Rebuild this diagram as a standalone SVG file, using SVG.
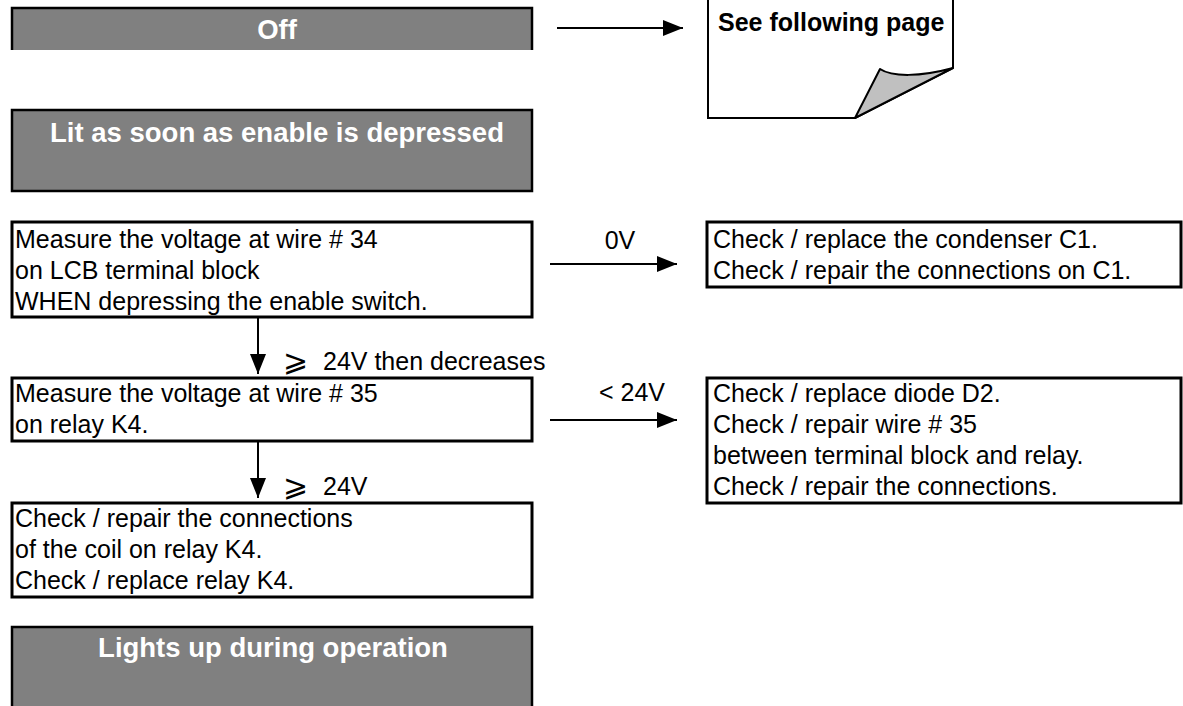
<svg xmlns="http://www.w3.org/2000/svg" width="1183" height="706" viewBox="0 0 1183 706">
  <style>
    .head { fill: #808080; }
    .edge { fill: none; stroke: #000; stroke-width: 2.5; }
    .box { fill: #fff; stroke: #000; stroke-width: 3; }
    .title { font-family: "Liberation Sans", Arial, sans-serif; font-weight: bold; font-size: 27.5px; fill: #fff; text-anchor: middle; }
    .body { font-family: "Liberation Sans", Arial, sans-serif; font-size: 25px; fill: #000; }
    .note { font-family: "Liberation Sans", Arial, sans-serif; font-weight: bold; font-size: 25px; fill: #000; }
    .sym { font-family: "DejaVu Sans", sans-serif; font-size: 30px; fill: #000; }
    .conn { stroke: #000; stroke-width: 2; fill: none; marker-end: url(#arrow); }
  </style>
  <defs>
    <marker id="arrow" markerUnits="userSpaceOnUse" markerWidth="20" markerHeight="16" refX="20" refY="8" orient="auto">
      <path d="M0,0 L20,8 L0,16 Z" fill="#000"/>
    </marker>
  </defs>
  <rect width="1183" height="706" fill="#fff"/>

  <!-- header: Off (open at the bottom) -->
  <g id="off">
    <rect class="head" x="12" y="8" width="520" height="42"/>
    <path class="edge" d="M12,50 V8 H532 V50"/>
    <text class="title" x="277" y="39">Off</text>
  </g>

  <!-- page reference with curled corner -->
  <g id="see-following-page">
    <path d="M708,-2 V118 H855 L953,68 V-2" fill="#fff" stroke="#000" stroke-width="2"/>
    <path d="M855,118 L880,69 C892,77 920,77 953,68 Z" fill="#c0c0c0" stroke="#000" stroke-width="2" stroke-linejoin="round"/>
    <text class="note" x="718" y="31">See following page</text>
  </g>

  <!-- header: Lit as soon as enable is depressed -->
  <g id="lit-on-enable">
    <rect class="head" x="12" y="110" width="520" height="81"/>
    <rect class="edge" x="12" y="110" width="520" height="81"/>
    <text class="title" x="277" y="142">Lit as soon as enable is depressed</text>
  </g>

  <g id="measure-34">
    <rect class="box" x="12" y="222" width="520" height="95"/>
    <text class="body" x="15" y="248">Measure the voltage at wire # 34</text>
    <text class="body" x="15" y="279">on LCB terminal block</text>
    <text class="body" x="15" y="310">WHEN depressing the enable switch.</text>
  </g>

  <g id="fix-c1">
    <rect class="box" x="707" y="222" width="474" height="65"/>
    <text class="body" x="713" y="248">Check / replace the condenser C1.</text>
    <text class="body" x="713" y="279">Check / repair the connections on C1.</text>
  </g>

  <g id="measure-35">
    <rect class="box" x="12" y="378" width="520" height="63"/>
    <text class="body" x="15" y="402">Measure the voltage at wire # 35</text>
    <text class="body" x="15" y="433">on relay K4.</text>
  </g>

  <g id="fix-d2">
    <rect class="box" x="707" y="378" width="474" height="125"/>
    <text class="body" x="713" y="402">Check / replace diode D2.</text>
    <text class="body" x="713" y="433">Check / repair wire # 35</text>
    <text class="body" x="713" y="464">between terminal block and relay.</text>
    <text class="body" x="713" y="495">Check / repair the connections.</text>
  </g>

  <g id="fix-k4">
    <rect class="box" x="12" y="503" width="520" height="94"/>
    <text class="body" x="15" y="527">Check / repair the connections</text>
    <text class="body" x="15" y="558">of the coil on relay K4.</text>
    <text class="body" x="15" y="589">Check / replace relay K4.</text>
  </g>

  <!-- header: Lights up during operation (runs off the bottom) -->
  <g id="lit-in-operation">
    <rect class="head" x="12" y="627" width="520" height="85"/>
    <rect class="edge" x="12" y="627" width="520" height="85"/>
    <text class="title" x="273" y="657">Lights up during operation</text>
  </g>

  <g id="connectors">
    <line class="conn" x1="557" y1="28" x2="683" y2="28"/>
    <line class="conn" x1="550" y1="264" x2="677" y2="264"/>
    <line class="conn" x1="550" y1="420" x2="677" y2="420"/>
    <line class="conn" x1="258" y1="317" x2="258" y2="374"/>
    <line class="conn" x1="258" y1="441" x2="258" y2="498"/>
    <text class="body" x="620" y="249" text-anchor="middle">0V</text>
    <text class="body" x="632" y="401" text-anchor="middle">&lt; 24V</text>
    <text class="sym" x="283" y="371">⩾</text>
    <text class="body" x="323" y="370">24V then decreases</text>
    <text class="sym" x="283" y="496">⩾</text>
    <text class="body" x="323" y="495">24V</text>
  </g>
</svg>
